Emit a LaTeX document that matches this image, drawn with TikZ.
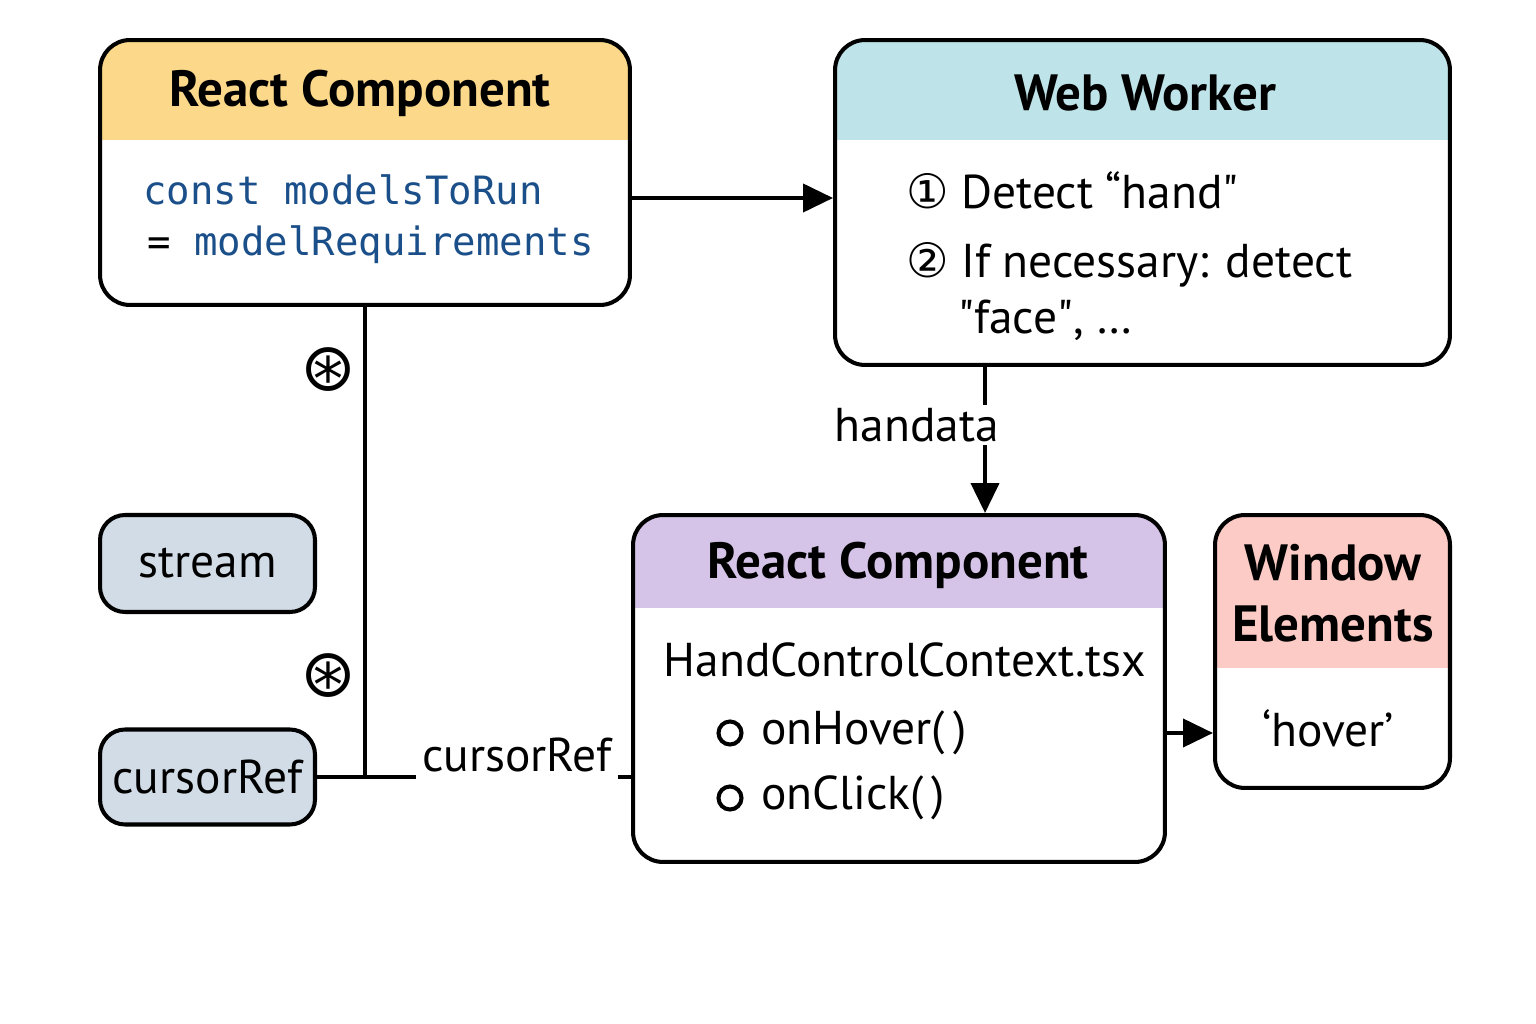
\documentclass[tikz,border=0pt]{standalone}
\usepackage{fontspec}
\setmainfont{PT Sans}
\newfontfamily\symfont{DejaVu Sans}
\newfontfamily\codefont{DejaVu Sans Mono}
\usepackage{tikz}
\usetikzlibrary{arrows.meta}

\definecolor{hdyellow}{HTML}{FCD98A}
\definecolor{hdblue}{HTML}{BEE3E8}
\definecolor{hdpurple}{HTML}{D5C4E8}
\definecolor{hdsalmon}{HTML}{FCCBC5}
\definecolor{pillgray}{HTML}{D1DCE6}
\definecolor{codeblue}{HTML}{1B4F8A}

\tikzset{
	box/.style={draw, line width=2.3pt, rounded corners=0.6cm, fill=white, inner sep=0pt},
	head/.style 2 args={path picture={\fill[#1, sharp corners] (path picture bounding box.north west) rectangle ([yshift=-#2]path picture bounding box.north east);}},
	pill/.style={draw, line width=2.3pt, rounded corners=0.5cm, fill=pillgray, inner sep=0pt},
	title/.style={font=\fontsize{29}{35}\selectfont\bfseries},
	body/.style={font=\fontsize{27}{33}\selectfont},
	code/.style={font=\codefont\fontsize{22.2}{26}\selectfont, text=codeblue, anchor=west, inner sep=0pt},
	bullet/.style={circle, draw, line width=2.3pt, minimum size=0.46cm, inner sep=0pt},
	conn/.style={line width=2.3pt},
	arr/.style={conn, -{Triangle[length=0.6cm,width=0.56cm]}},
	astmark/.style={font=\symfont\fontsize{38}{38}\selectfont, inner sep=0pt},
}

\begin{document}
\begin{tikzpicture}[x=0.02cm, y=-0.02cm]
	\fill[white] (0,0) rectangle (1536,1024);
	
	% boxes
	\node[box, head={hdyellow}{2cm}, minimum width=10.6cm, minimum height=5.3cm] (rc1) at (365,172.5) {};
	\node[box, head={hdblue}{2cm}, minimum width=12.3cm, minimum height=6.5cm] (ww) at (1142.5,202.5) {};
	\node[box, head={hdpurple}{1.86cm}, minimum width=10.64cm, minimum height=6.94cm] (rc2) at (899,688.5) {};
	\node[box, head={hdsalmon}{3.06cm}, minimum width=4.7cm, minimum height=5.46cm] (we) at (1332.5,651.5) {};
	\node[pill, minimum width=4.3cm, minimum height=1.94cm, body] (stream) at (207.5,563.5) {stream};
	\node[pill, minimum width=4.3cm, minimum height=1.9cm, body] (cref) at (207.5,777) {cursorRef};
	
	% texts
	\node[title] (rc1t) at (360,93) {React Component};
	\node[code] (rc1a) at (143,190) {const modelsToRun};
	\node[code] (rc1b) at (147,245) {{\color{black}=} modelRequirements};
	
	\node[title] (wwt) at (1145,93) {Web Worker};
	\node[body, anchor=west] (ww1) at (900,190) {{\symfont ①} Detect “hand\textquotedbl};
	\node[body, anchor=west] (ww2) at (900,265) {{\symfont ②} If necessary: detect};
	\node[body, anchor=west] (ww3) at (952,320) {\textquotedbl face\textquotedbl, \ldots};
	
	\node[title] (rc2t) at (898,565) {React Component};
	\node[body] (rc2f) at (905,660) {HandControlContext.tsx};
	\foreach \y/\t [count=\i] in {733/{onHover(\,)}, 798/{onClick(\,)}}
	{
		\node[bullet] (b\i) at (730,\y) {};
		\node[body, anchor=west] (m\i) at (755,\y) {\t};
	}
	
	\node[title, align=center] (wet) at (1333,593) {Window\\Elements};
	\node[body] (weh) at (1328,728) {‘hover’};
	
	% connectors
	\draw[arr] ([yshift=-0.51cm]rc1.east) -- ([yshift=-0.51cm]rc1.east -| ww.west);
	\draw[arr] ([xshift=-3.15cm]ww.south) -- ([xshift=-3.15cm]ww.south |- rc2.north);
	\node[body, fill=white, inner sep=2pt] (hd) at (917,425) {handata};
	\draw[arr] ([yshift=-0.89cm]rc2.east) -- ([yshift=-0.89cm]rc2.east -| we.west);
	
	\coordinate (jn) at (rc1.south |- cref.east);
	\draw[conn] (rc1.south) -- (jn);
	\node[body, anchor=south, inner sep=3pt] (crl) at (517,778) {cursorRef};
	\draw[conn] (cref.east) -- (crl.south west |- cref.east);
	\draw[conn] (crl.south east |- cref.east) -- (cref.east -| rc2.west);
	
	\node[astmark] (ast1) at (328,370) {⊛};
	\node[astmark] (ast2) at (328,676) {⊛};
\end{tikzpicture}
\end{document}
